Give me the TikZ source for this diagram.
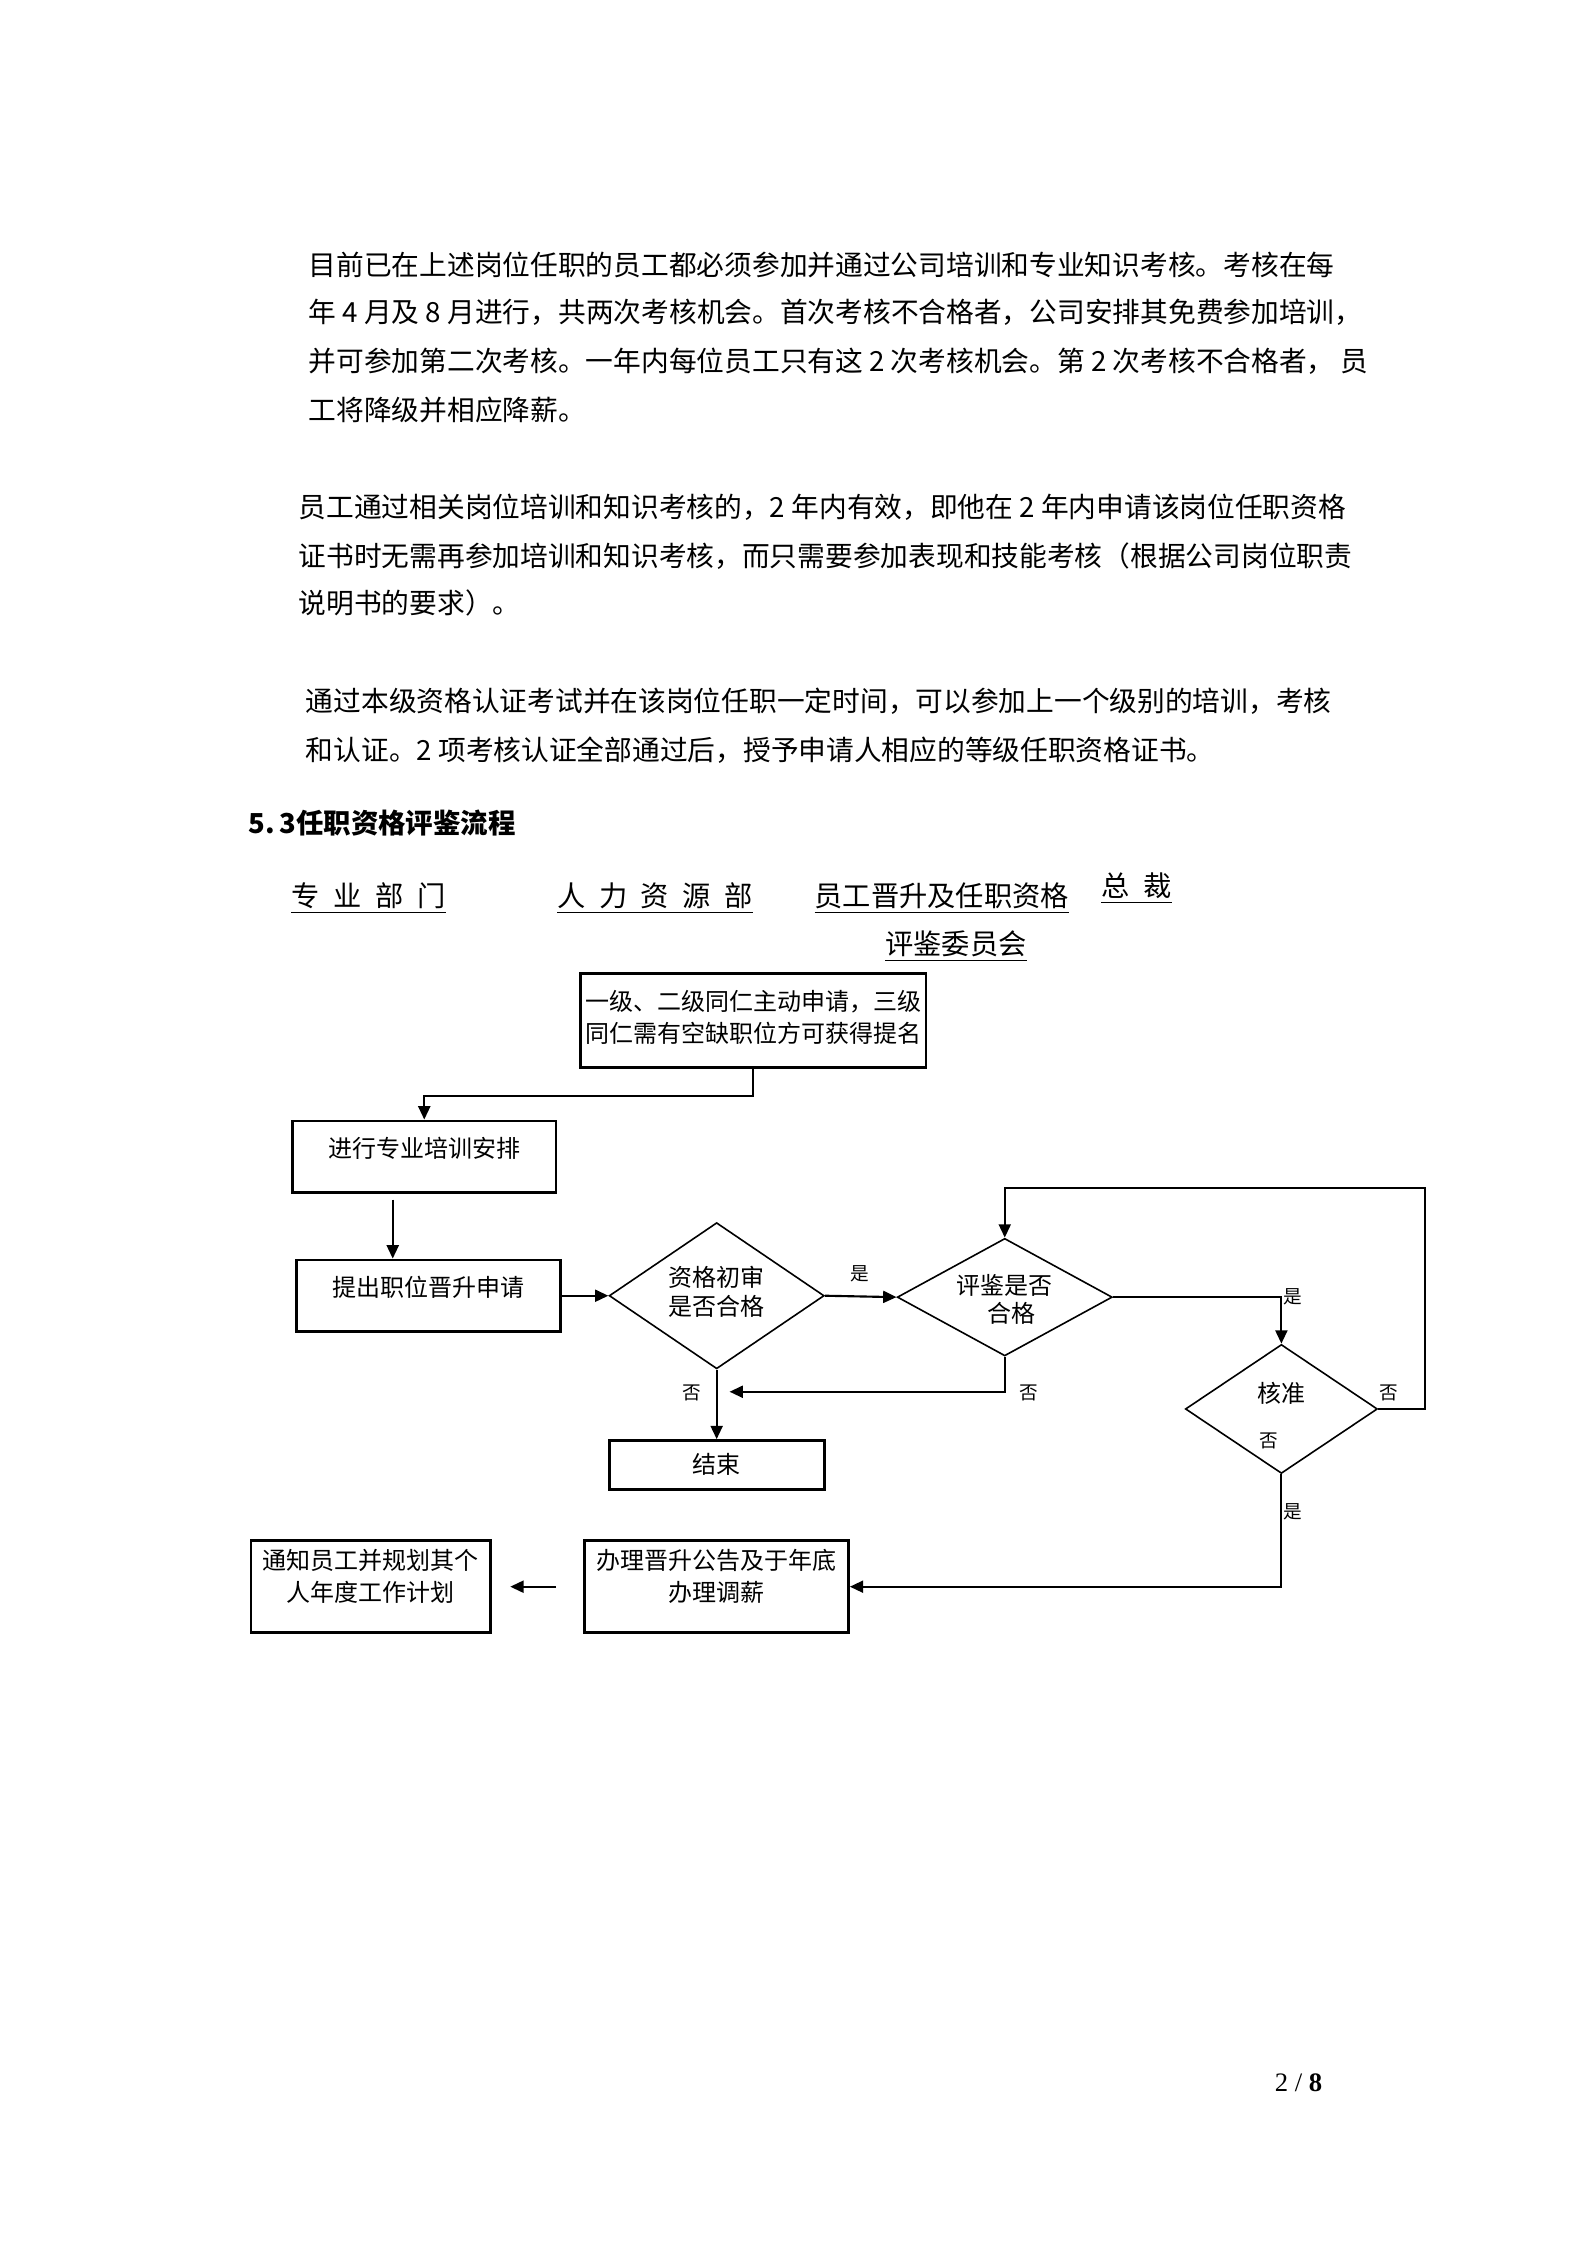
\documentclass[tikz,border=0pt]{standalone}
\usepackage{fontspec}
\setmainfont{Noto Sans CJK SC}
\newfontfamily\lserif{Liberation Serif}
\usetikzlibrary{arrows.meta,shapes.geometric}
\newdimen\uu \uu=0.53767pt
\begin{document}
\begin{tikzpicture}[x=0.53767pt,y=-0.53767pt,
  para/.style={anchor=west, inner sep=0, font=\fontsize{10.4}{12}\selectfont, text height=9.1pt, text depth=1.3pt},
  hdr/.style={inner sep=0, font=\fontsize{10.6}{12}\selectfont},
  box/.style={draw, line width=1pt, inner sep=0, rectangle},
  dia/.style={draw, diamond, line width=0.6pt, inner sep=0},
  txt/.style={inner sep=0, align=center, font=\fontsize{9}{11.9}\selectfont},
  lbl/.style={inner sep=0, font=\fontsize{7}{8}\selectfont},
  arr/.style={line width=0.8pt, -{Triangle[length=5pt,width=4.5pt]}}
]
\useasboundingbox (0,0) rectangle (1106.6,1566.3);

% paragraph 1
\node[para] (p1a) at (215,185) {目前已在上述岗位任职的员工都必须参加并通过公司培训和专业知识考核。考核在每};
\node[para] (p1b) at (215,218) {年 4 月及 8 月进行，共两次考核机会。首次考核不合格者，公司安排其免费参加培训，};
\node[para] (p1c) at (215,252) {并可参加第二次考核。一年内每位员工只有这 2 次考核机会。第 2 次考核不合格者， 员};
\node[para] (p1d) at (215,286) {工将降级并相应降薪。};
% paragraph 2
\node[para] (p2a) at (208,354) {员工通过相关岗位培训和知识考核的，2 年内有效，即他在 2 年内申请该岗位任职资格};
\node[para] (p2b) at (208,388) {证书时无需再参加培训和知识考核，而只需要参加表现和技能考核（根据公司岗位职责};
\node[para] (p2c) at (208,421) {说明书的要求）。};
% paragraph 3
\node[para] (p3a) at (213,489) {通过本级资格认证考试并在该岗位任职一定时间，可以参加上一个级别的培训，考核};
\node[para] (p3b) at (213,523) {和认证。2 项考核认证全部通过后，授予申请人相应的等级任职资格证书。};
% heading
\node[para, font=\fontsize{10.3}{12}\selectfont\bfseries] (head) at (173,574) {5.\,3任职资格评鉴流程};

% column headers
\node[hdr] (h1) at (257,627) {\underline{专\hspace{5.2pt}业\hspace{5.2pt}部\hspace{5.2pt}门}};
\node[hdr] (h2) at (457,627) {\underline{人\hspace{5.1pt}力\hspace{5.1pt}资\hspace{5.1pt}源\hspace{5.1pt}部}};
\node[hdr] (h3) at (657,627) {\underline{员工晋升及任职资格}};
\node[hdr] (h3b) at (667,660) {\underline{评鉴委员会}};
\node[hdr] (h4) at (793,620) {\underline{总\hspace{5.3pt}裁}};

% boxes
\node[box, minimum width=241\uu, minimum height=66\uu] (A) at (525.5,712) {};
\node[txt] (At) at (525.5,710) {一级、二级同仁主动申请，三级\\同仁需有空缺职位方可获得提名};
\node[box, minimum width=184\uu, minimum height=50\uu] (B) at (296,807) {};
\node[txt] (Bt) at (296,801) {进行专业培训安排};
\node[box, minimum width=184\uu, minimum height=50\uu] (C) at (299,904) {};
\node[txt] (Ct) at (299,898) {提出职位晋升申请};
\node[box, minimum width=150\uu, minimum height=34\uu] (E) at (500,1022) {};
\node[txt] (Et) at (500,1022) {结束};
\node[box, minimum width=184\uu, minimum height=64\uu] (F) at (500,1107) {};
\node[txt] (Ft) at (500,1100) {办理晋升公告及于年底\\办理调薪};
\node[box, minimum width=167\uu, minimum height=64\uu] (G) at (258.5,1107) {};
\node[txt] (Gt) at (258.5,1100) {通知员工并规划其个\\人年度工作计划};

% diamonds
\node[dia, minimum width=150\uu, minimum height=102\uu] (D1) at (500,904) {};
\node[txt, font=\fontsize{9}{10.8}\selectfont] (D1t) at (500,901) {资格初审\\是否合格};
\node[dia, minimum width=150\uu, minimum height=82\uu] (D2) at (701,905) {};
\node[txt] (D2t1) at (701,897) {评鉴是否};
\node[txt] (D2t2) at (706,916) {合格};
\node[dia, minimum width=134\uu, minimum height=90\uu] (D3) at (894,983) {};
\node[txt] (D3t) at (894,972) {核准};

% connectors
\draw[arr] (A.south) -- ++(0,19) -| (B.north);
\draw[arr] ([shift={(-22,4)}]B.south) -- ([xshift=-25\uu]C.north);
\draw[arr] (C.east) -- (D1.west);
\draw[arr] (D1.east) -- (D2.west);
\draw[arr] (D2.east) -| (D3.north);
\coordinate (loopc) at (994,829);
\draw[arr] (D3.east) -| (loopc) -| (D2.north);
\coordinate (noend) at (509,971);
\draw[arr] (D2.south) |- (noend);
\draw[arr] (D1.south) -- (E.north);
\draw[arr] (D3.south) |- (F.east);
\coordinate (fa1) at (388,1107);
\coordinate (fa2) at (356,1107);
\draw[arr] (fa1) -- (fa2);

% labels
\node[lbl] (l1) at (600,889) {是};
\node[lbl] (l2) at (902,905) {是};
\node[lbl] (l3) at (969,972) {否};
\node[lbl] (l4) at (718,972) {否};
\node[lbl] (l5) at (483,972) {否};
\node[lbl] (l6) at (885,1005) {否};
\node[lbl] (l7) at (902,1055) {是};

% page number
\node[inner sep=0, font=\lserif\fontsize{10}{12}\selectfont] (pg) at (906,1453) {2 / \textbf{8}};
\end{tikzpicture}
\end{document}
